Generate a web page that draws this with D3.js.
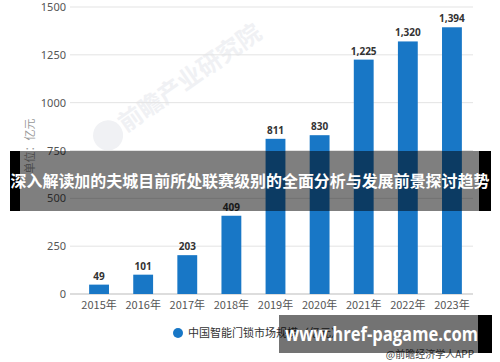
<!DOCTYPE html>
<meta charset="utf-8">
<style>
  body { margin: 0; background: #fff; }
  text { font-family: "Noto Sans CJK SC", "Noto Sans", sans-serif; }
</style>
<div id="chart"></div>
<script src="https://cdn.jsdelivr.net/npm/d3@7/dist/d3.min.js"></script>
<script>
var years = ["2015年","2016年","2017年","2018年","2019年","2020年","2021年","2022年","2023年"];
var values = [49, 101, 203, 409, 811, 830, 1225, 1320, 1394];
var yTicks = [0, 250, 500, 750, 1000, 1250, 1500];
var seriesName = "中国智能门锁市场规模（亿元）";
var yTitle = "单位：亿元";
var banner = "深入解读加的夫城目前所处联赛级别的全面分析与发展前景探讨趋势";
var site = "www.href-pagame.com";
var source = "@前瞻经济学人APP";

var W = 500, H = 362;
var svg = d3.select("#chart").append("svg")
    .attr("width", W).attr("height", H);

var x = d3.scaleBand()
    .domain(years)
    .range([77, 474])
    .paddingInner(0.55)
    .paddingOuter(0.275);

var y = d3.scaleLinear()
    .domain([0, 1500])
    .range([294, 7]);

// faint watermark
var wm = svg.append("g").attr("transform", "translate(190,78) rotate(-35)");
wm.append("text").attr("text-anchor", "middle").attr("y", 8)
  .style("font-size", "24px").style("font-weight", "bold").style("fill", "#f0f1f4")
  .text("前瞻产业研究院");
wm.append("circle").attr("cx", -100).attr("cy", 0).attr("r", 15).style("fill", "#f0f1f4");

// gridlines
svg.append("g").selectAll("line")
  .data(yTicks.slice(1))
  .enter().append("line")
    .attr("x1", 70).attr("x2", 473)
    .attr("y1", function(d){ return y(d); })
    .attr("y2", function(d){ return y(d); })
    .style("stroke", "#e3e3e3");

// y axis labels
var yAxis = svg.append("g")
  .attr("transform", "translate(66,0)")
  .call(d3.axisLeft(y).tickValues(yTicks).tickSize(0).tickPadding(0).tickFormat(d3.format("d")));
yAxis.select(".domain").remove();
yAxis.selectAll("text").style("font-size", "11px").style("fill", "#555")
  .style("font-family", "'Noto Sans', sans-serif");

// baseline
svg.append("line")
  .attr("x1", 70).attr("x2", 473)
  .attr("y1", y(0)).attr("y2", y(0))
  .style("stroke", "#bbb");

// bars
svg.append("g").selectAll("rect")
  .data(values)
  .enter().append("rect")
    .attr("x", function(d,i){ return x(years[i]); })
    .attr("width", x.bandwidth())
    .attr("y", function(d){ return y(d); })
    .attr("height", function(d){ return y(0) - y(d); })
    .style("fill", "#1877c6");

// value labels
svg.append("g").selectAll("text")
  .data(values)
  .enter().append("text")
    .attr("x", function(d,i){ return x(years[i]) + x.bandwidth()/2; })
    .attr("y", function(d){ return y(d) - 5; })
    .attr("text-anchor", "middle")
    .style("font-size", "10px").style("font-weight", "bold").style("fill", "#333")
    .style("font-family", "'Noto Sans', sans-serif")
    .text(function(d){ return d3.format(",")(d); });

// x axis labels
var xAxis = svg.append("g")
  .attr("transform", "translate(0," + (y(0) + 7) + ")")
  .call(d3.axisBottom(x).tickSize(0).tickPadding(0));
xAxis.select(".domain").remove();
xAxis.selectAll("text").style("font-size", "11px").style("fill", "#555");

// y title
svg.append("text")
  .attr("transform", "translate(34,146) rotate(-90)")
  .attr("text-anchor", "middle")
  .style("font-size", "11px").style("fill", "#999")
  .text(yTitle);

// legend
svg.append("circle").attr("cx", 178).attr("cy", 333).attr("r", 5).style("fill", "#1877c6");
svg.append("text").attr("x", 188).attr("y", 337)
  .style("font-size", "11px").style("fill", "#333")
  .text(seriesName);

// source
svg.append("text").attr("x", 474).attr("y", 358).attr("text-anchor", "end")
  .style("font-size", "10px").style("fill", "#444")
  .text(source);

// top banner overlay
svg.append("rect").attr("x", 10).attr("y", 151).attr("width", 10).attr("height", 60).style("fill", "#000");
svg.append("rect").attr("x", 479).attr("y", 151).attr("width", 12).attr("height", 60).style("fill", "#000");
svg.append("rect").attr("x", 20).attr("y", 151).attr("width", 459).attr("height", 60)
  .style("fill", "#000").style("opacity", 0.5);
svg.append("text").attr("x", 250).attr("y", 187).attr("text-anchor", "middle")
  .attr("textLength", 479).attr("lengthAdjust", "spacingAndGlyphs")
  .style("font-size", "16px").style("font-weight", "bold").style("fill", "#fff")
  .text(banner);

// bottom banner overlay
svg.append("rect").attr("x", 478).attr("y", 315).attr("width", 14).attr("height", 38).style("fill", "#000");
svg.append("rect").attr("x", 279).attr("y", 315).attr("width", 199).attr("height", 38)
  .style("fill", "#000").style("opacity", 0.55);
svg.append("text").attr("x", 285).attr("y", 341)
  .attr("textLength", 193).attr("lengthAdjust", "spacingAndGlyphs")
  .style("font-size", "20px").style("font-weight", "bold").style("fill", "#fff")
  .style("font-family", "'Open Sans', sans-serif")
  .text(site);
</script>
